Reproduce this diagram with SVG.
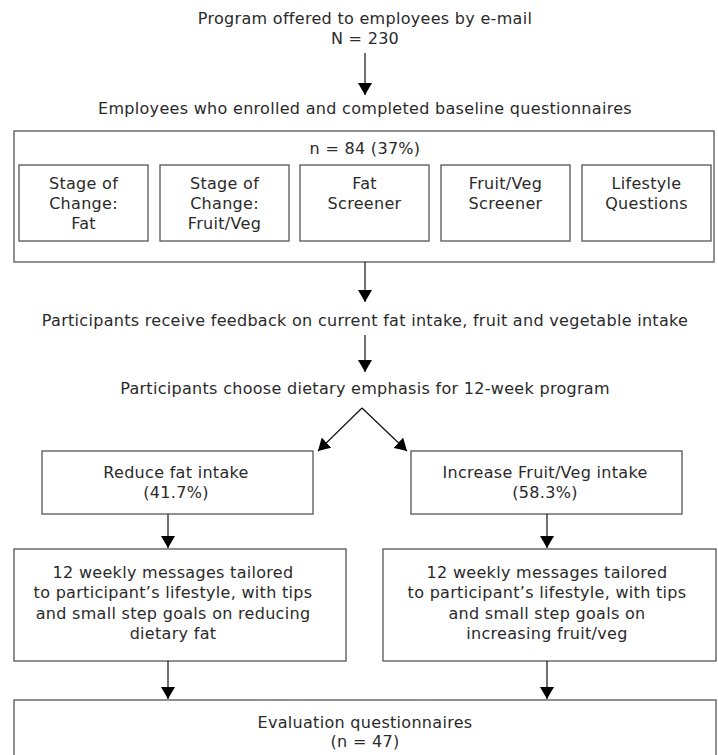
<svg xmlns="http://www.w3.org/2000/svg" width="718" height="755" viewBox="0 0 718 755">
<defs>
<marker id="ah" viewBox="0 0 12 14" refX="12" refY="7" markerWidth="12" markerHeight="14" markerUnits="userSpaceOnUse" orient="auto">
<path d="M0,0 L12,7 L0,14 Z" fill="#000"/>
</marker>
<style>
text{font-family:"DejaVu Sans",Verdana,sans-serif;font-size:16px;letter-spacing:0.3px;fill:#2a2a2a;text-anchor:middle}
.box{fill:#fff;stroke:#555;stroke-width:1.3}
.con{stroke:#111;stroke-width:1.2;fill:none;marker-end:url(#ah)}
</style>
</defs>
<rect width="718" height="755" fill="#fff"/>
<g id="start"><text x="365" y="24">Program offered to employees by e-mail</text><text x="365" y="44">N = 230</text></g>
<g id="enrolled-label"><text x="365" y="114">Employees who enrolled and completed baseline questionnaires</text></g>
<g id="enrolled"><rect class="box" x="14" y="131" width="700" height="131"/><text x="365" y="154">n = 84 (37%)</text></g>
<g id="soc-fat"><rect class="box" x="19" y="165" width="129" height="76"/><text x="83.5" y="189">Stage of</text><text x="83.5" y="209">Change:</text><text x="83.5" y="229">Fat</text></g>
<g id="soc-fv"><rect class="box" x="160" y="165" width="129" height="76"/><text x="224.5" y="189">Stage of</text><text x="224.5" y="209">Change:</text><text x="224.5" y="229">Fruit/Veg</text></g>
<g id="fat-screener"><rect class="box" x="300" y="165" width="129" height="76"/><text x="364.5" y="189">Fat</text><text x="364.5" y="209">Screener</text></g>
<g id="fv-screener"><rect class="box" x="441" y="165" width="129" height="76"/><text x="505.5" y="189">Fruit/Veg</text><text x="505.5" y="209">Screener</text></g>
<g id="lifestyle"><rect class="box" x="582" y="165" width="129" height="76"/><text x="646.5" y="189">Lifestyle</text><text x="646.5" y="209">Questions</text></g>
<g id="feedback"><text x="365" y="326">Participants receive feedback on current fat intake, fruit and vegetable intake</text></g>
<g id="choose"><text x="365" y="394">Participants choose dietary emphasis for 12-week program</text></g>
<g id="reduce-fat"><rect class="box" x="42" y="451" width="271" height="63"/><text x="176" y="478">Reduce fat intake</text><text x="176" y="498">(41.7%)</text></g>
<g id="increase-fv"><rect class="box" x="411" y="451" width="271" height="63"/><text x="545" y="478">Increase Fruit/Veg intake</text><text x="545" y="498">(58.3%)</text></g>
<g id="msg-fat"><rect class="box" x="14" y="549" width="332" height="112"/><text x="173" y="578">12 weekly messages tailored</text><text x="173" y="598">to participant’s lifestyle, with tips</text><text x="173" y="619">and small step goals on reducing</text><text x="173" y="639">dietary fat</text></g>
<g id="msg-fv"><rect class="box" x="383" y="549" width="333" height="112"/><text x="547" y="578">12 weekly messages tailored</text><text x="547" y="598">to participant’s lifestyle, with tips</text><text x="547" y="619">and small step goals on</text><text x="547" y="639">increasing fruit/veg</text></g>
<g id="evaluation"><rect class="box" x="14" y="700" width="702" height="70"/><text x="365" y="728">Evaluation questionnaires</text><text x="365" y="747">(n = 47)</text></g>
<g id="connectors">
<line class="con" x1="362" y1="408" x2="318" y2="451"/>
<line class="con" x1="365" y1="53" x2="365" y2="95"/>
<line class="con" x1="365" y1="262" x2="365" y2="302"/>
<line class="con" x1="365" y1="335" x2="365" y2="372"/>
<line class="con" x1="362" y1="408" x2="407" y2="451"/>
<line class="con" x1="168" y1="514" x2="168" y2="548"/>
<line class="con" x1="547" y1="514" x2="547" y2="548"/>
<line class="con" x1="168" y1="661" x2="168" y2="699"/>
<line class="con" x1="547" y1="661" x2="547" y2="699"/>
</g>
</svg>
